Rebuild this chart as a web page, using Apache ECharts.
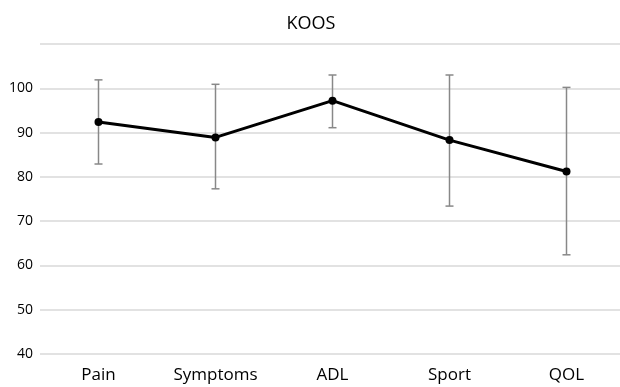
<!DOCTYPE html>
<html><head><meta charset="utf-8">
<script src="https://cdn.jsdelivr.net/npm/echarts@6/dist/echarts.min.js"></script>
<style>html,body{margin:0;padding:0;background:#fff;overflow:hidden}#c{width:625px;height:387px}</style>
</head><body><div id="c"></div>
<script>
const categories = ['Pain', 'Symptoms', 'ADL', 'Sport', 'QOL'];
const means = [92.4, 88.9, 97.2, 88.3, 81.2];
const upper = [101.9, 100.9, 103.0, 103.0, 100.2];
const lower = [82.9, 77.3, 91.1, 73.4, 62.4];

const chart = echarts.init(document.getElementById('c'));
const font = '"Open Sans", "Noto Sans", sans-serif';
chart.setOption({
  animation: false,
  backgroundColor: '#fff',
  title: { text: 'KOOS', left: 306, top: 10, textAlign: 'center', textStyle: { fontFamily: font, fontSize: 18, fontWeight: 'normal', color: '#000' } },
  grid: { left: 40, right: 0, top: 44, bottom: 33 },
  xAxis: {
    type: 'category', data: categories, boundaryGap: true,
    axisLine: { show: false }, axisTick: { show: false },
    axisLabel: { fontFamily: font, fontSize: 17, color: '#000', margin: 13 }
  },
  yAxis: {
    type: 'value', min: 40, max: 110, interval: 10,
    axisLine: { show: false }, axisTick: { show: false },
    splitLine: { lineStyle: { color: '#d9d9d9', width: 1.5 } },
    axisLabel: { fontFamily: font, fontSize: 14, color: '#000', margin: 7,
      formatter: v => v === 110 ? '' : String(v) }
  },
  series: [
    {
      type: 'custom',
      data: categories.map((c, i) => [i, lower[i], upper[i]]),
      renderItem: function (params, api) {
        const x = api.value(0);
        const lo = api.coord([x, api.value(1)]);
        const hi = api.coord([x, api.value(2)]);
        const w = 4;
        const style = { stroke: '#888', lineWidth: 1.5 };
        return { type: 'group', children: [
          { type: 'line', shape: { x1: lo[0], y1: lo[1], x2: hi[0], y2: hi[1] }, style },
          { type: 'line', shape: { x1: lo[0] - w, y1: lo[1], x2: lo[0] + w, y2: lo[1] }, style },
          { type: 'line', shape: { x1: hi[0] - w, y1: hi[1], x2: hi[0] + w, y2: hi[1] }, style }
        ]};
      },
      z: 1
    },
    {
      type: 'line', data: means, symbol: 'circle', symbolSize: 8,
      lineStyle: { color: '#000', width: 3 }, itemStyle: { color: '#000' }, z: 2
    }
  ]
});
</script></body></html>
